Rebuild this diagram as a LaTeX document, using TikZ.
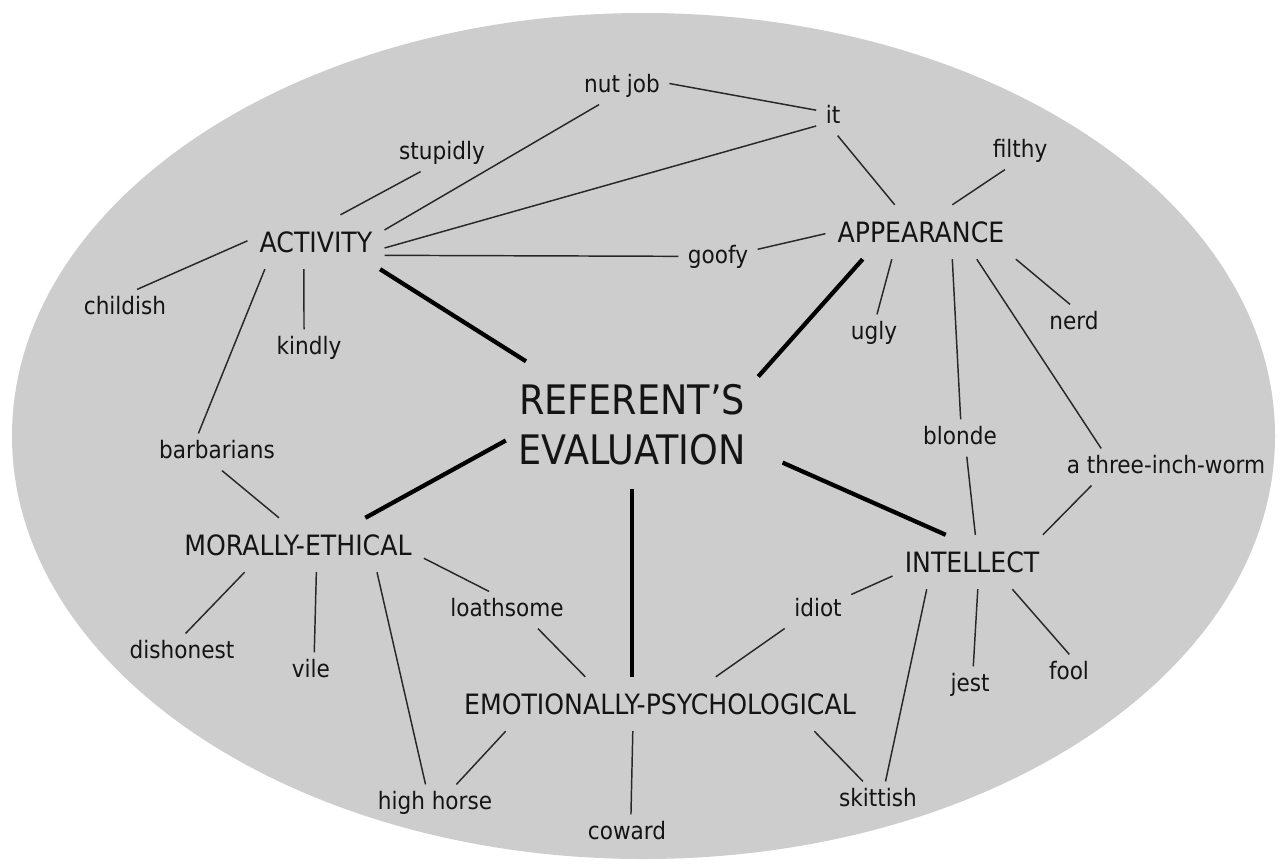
\documentclass[tikz,border=0pt]{standalone}
\usepackage{fontspec}
\setmainfont{DejaVu Sans Condensed}
\definecolor{ovalgray}{RGB}{205,205,205}
\definecolor{ink}{RGB}{20,20,20}
\definecolor{linegray}{RGB}{40,40,40}
\begin{document}
\begin{tikzpicture}[x=0.75pt,y=-0.75pt,
  lexeme/.style={font=\fontsize{18}{20}\selectfont, text=ink,
    text height=13.5pt, text depth=4pt, inner xsep=7pt, inner ysep=5pt},
  facet/.style={font=\fontsize{21}{24}\selectfont, text=ink,
    text height=15.4pt, text depth=0pt, inner xsep=9pt, inner ysep=12.5pt},
  hub/.style={font=\fontsize{30.5}{37.5}\selectfont, text=ink, align=center,
    inner xsep=9.4pt, inner ysep=17.3pt},
  thinlink/.style={draw=linegray, line width=1.1pt},
  boldlink/.style={draw=black, line width=3.2pt}]

% canvas and grey oval
\useasboundingbox (0,0) rectangle (1280,865);
\fill[white] (0,0) rectangle (1280,865);
\fill[ovalgray] (643.5,436) ellipse [x radius=631.5, y radius=423];

% central concept
\node[hub] (ref) at (632,425) {REFERENT’S\\EVALUATION};

% evaluation facets
\node[facet] (act) at (316,242) {ACTIVITY};
\node[facet] (app) at (921,232) {APPEARANCE};
\node[facet] (mor) at (298,545) {MORALLY-ETHICAL};
\node[facet] (int) at (972,562) {INTELLECT};
\node[facet] (emo) at (660,704) {EMOTIONALLY-PSYCHOLOGICAL};

% lexical units
\node[lexeme] (nut) at (622,86) {nut job};
\node[lexeme] (it) at (833,117) {it};
\node[lexeme] (stup) at (442,153) {stupidly};
\node[lexeme] (filthy) at (1020,151) {filthy};
\node[lexeme] (goofy) at (718,257) {goofy};
\node[lexeme] (child) at (125,308) {childish};
\node[lexeme] (kindly) at (309,348) {kindly};
\node[lexeme] (ugly) at (874,333) {ugly};
\node[lexeme] (nerd) at (1074,323) {nerd};
\node[lexeme] (blonde) at (960,438) {blonde};
\node[lexeme] (barb) at (217,452) {barbarians};
\node[lexeme] (worm) at (1166,467) {a three-inch-worm};
\node[lexeme] (loath) at (507,610) {loathsome};
\node[lexeme] (idiot) at (818,610) {idiot};
\node[lexeme] (dish) at (182,652) {dishonest};
\node[lexeme] (vile) at (311,671) {vile};
\node[lexeme] (jest) at (970,685) {jest};
\node[lexeme] (fool) at (1069,673) {fool};
\node[lexeme] (horse) at (435,803) {high horse};
\node[lexeme] (coward) at (627,833) {coward};
\node[lexeme] (skit) at (878,800) {skittish};

% main links from the centre
\draw[boldlink] (act.-23) -- (ref.149);
\draw[boldlink] (app.-155) -- (ref.21);
\draw[boldlink] (ref.187) -- (mor.22);
\draw[boldlink] (ref.south) -- (ref.south |- emo.north);
\draw[boldlink, shorten <=20pt] (ref.-12) -- (int.134);

% activity
\draw[thinlink] (act.48) -- (stup.-139);
\draw[thinlink] (act.10) -- (nut.-141);
\draw[thinlink] (act.-5) -- (it.-152);
\draw[thinlink] (act.-11) -- (goofy.179);
\draw[thinlink] (act.179) -- (child.57);
\draw[thinlink] (act.-114) -- (kindly.105);
\draw[thinlink] (act.-152) -- (barb.135);
\draw[thinlink] (nut.3) -- (it.158);

% appearance
\draw[thinlink] (goofy.11) -- (app.181);
\draw[thinlink] (it.-76) -- (app.134);
\draw[thinlink] (filthy.-129) -- (app.41);
\draw[thinlink] (app.-137) -- (ugly.81);
\draw[thinlink] (app.-41) -- (blonde.88);
\draw[thinlink] (app.-26) -- (worm.164);
\draw[thinlink] (app.-16) -- (nerd.102);

% intellect
\draw[thinlink] (blonde.-70) -- (int.83);
\draw[thinlink] (worm.-166) -- (int.21);
\draw[thinlink] (int.-170) -- (idiot.25);
\draw[thinlink] (int.-149) -- (skit.68);
\draw[thinlink] (int.-78) -- (jest.80);
\draw[thinlink] (int.-34) -- (fool.89);

% morally-ethical
\draw[thinlink] (barb.-75) -- (mor.125);
\draw[thinlink] (mor.-153) -- (dish.79);
\draw[thinlink] (mor.-56) -- (vile.80);
\draw[thinlink] (mor.-19) -- (horse.117);
\draw[thinlink] (mor.-6) -- (loath.134);

% emotionally-psychological
\draw[thinlink] (loath.-31) -- (emo.160);
\draw[thinlink] (idiot.-151) -- (emo.26);
\draw[thinlink] (emo.-170) -- (horse.41);
\draw[thinlink] (emo.-135) -- (coward.78);
\draw[thinlink] (emo.-10) -- (skit.129);
\end{tikzpicture}
\end{document}
